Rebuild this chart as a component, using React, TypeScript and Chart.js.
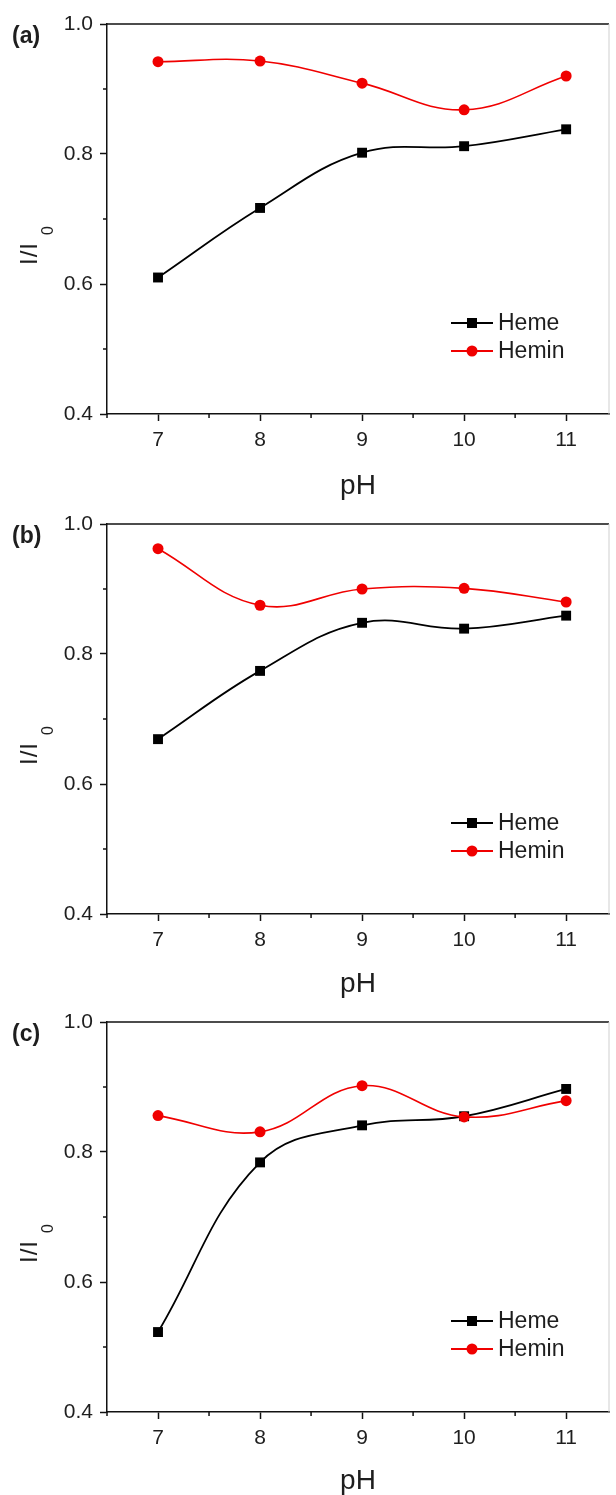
import React, { useEffect, useRef } from "react";
import { Chart, registerables } from "chart.js";

Chart.register(...registerables);

// ---------- data ----------
const phValues = [7, 8, 9, 10, 11];
const seriesNames = ["Heme", "Hemin"];
const panelLabels = ["(a)", "(b)", "(c)"];

const hemeA = [0.61, 0.717, 0.802, 0.812, 0.838];
const heminA = [0.942, 0.943, 0.909, 0.868, 0.92];
const hemeB = [0.669, 0.774, 0.848, 0.839, 0.859];
const heminB = [0.962, 0.875, 0.9, 0.901, 0.88];
const hemeC = [0.523, 0.784, 0.841, 0.855, 0.897];
const heminC = [0.856, 0.831, 0.902, 0.854, 0.879];

const xTickLabels = ["7", "8", "9", "10", "11"];
const yTickLabels = ["0.4", "0.6", "0.8", "1.0"];
const xTitle = "pH";
const yTitleMain = "I/I";
const yTitleSub = "0";

// ---------- style ----------
const FONT = "'Liberation Sans', Arial, Helvetica, sans-serif";
const TEXT = "#1e1e1e";
const RED = "#f00000";
const BLACK = "#000000";

const panels = [
  { label: panelLabels[0], heme: hemeA, hemin: heminA, top: 0, height: 500 },
  { label: panelLabels[1], heme: hemeB, hemin: heminB, top: 500, height: 498 },
  { label: panelLabels[2], heme: hemeC, hemin: heminC, top: 998, height: 497 },
];

const isMajorX = (v: number) => Math.abs(v - Math.round(v)) < 1e-6;
const isMajorY = (v: number) => Math.round(v * 10) % 2 === 0;

const decorPlugin = (panelLabel: string) => ({
  id: "decor",
  afterDraw(chart: any) {
    const { ctx, chartArea } = chart;
    const { left, right, top, bottom } = chartArea;
    const x = chart.scales.x;
    const y = chart.scales.y;
    ctx.save();
    // top frame
    ctx.strokeStyle = "#111";
    ctx.lineWidth = 1.5;
    ctx.beginPath();
    ctx.moveTo(left, top);
    ctx.lineTo(right, top);
    ctx.stroke();
    // faint right frame
    ctx.strokeStyle = "#cfcfcf";
    ctx.lineWidth = 1;
    ctx.beginPath();
    ctx.moveTo(right, top);
    ctx.lineTo(right, bottom);
    ctx.stroke();
    // minor ticks
    ctx.strokeStyle = "#111";
    ctx.lineWidth = 1.5;
    for (const t of x.ticks) {
      if (isMajorX(t.value)) continue;
      const px = x.getPixelForValue(t.value);
      ctx.beginPath();
      ctx.moveTo(px, bottom);
      ctx.lineTo(px, bottom + 4);
      ctx.stroke();
    }
    for (const t of y.ticks) {
      if (isMajorY(t.value)) continue;
      const py = y.getPixelForValue(t.value);
      ctx.beginPath();
      ctx.moveTo(left, py);
      ctx.lineTo(left - 4, py);
      ctx.stroke();
    }
    // panel label
    ctx.fillStyle = TEXT;
    ctx.font = `bold 23px ${FONT}`;
    ctx.textAlign = "left";
    ctx.textBaseline = "middle";
    ctx.fillText(panelLabel, 12, top + 13);
    // y title (rotated, with subscript)
    ctx.save();
    ctx.translate(37, top + 241);
    ctx.rotate(-Math.PI / 2);
    ctx.textBaseline = "alphabetic";
    ctx.font = `24px ${FONT}`;
    (ctx as any).letterSpacing = "1px";
    ctx.fillText(yTitleMain, 0, 0);
    const w = ctx.measureText(yTitleMain).width;
    (ctx as any).letterSpacing = "0px";
    ctx.font = `16px ${FONT}`;
    ctx.fillText(yTitleSub, w + 7, 16);
    ctx.restore();
    // legend
    chart.data.datasets.forEach((ds: any, i: number) => {
      const ly = top + 299 + i * 28;
      ctx.strokeStyle = ds.borderColor;
      ctx.lineWidth = 1.8;
      ctx.beginPath();
      ctx.moveTo(451, ly);
      ctx.lineTo(493, ly);
      ctx.stroke();
      ctx.fillStyle = ds.backgroundColor;
      if (ds.pointStyle === "rect") {
        ctx.fillRect(467, ly - 5, 10, 10);
      } else {
        ctx.beginPath();
        ctx.arc(472, ly, 5.5, 0, Math.PI * 2);
        ctx.fill();
      }
      ctx.fillStyle = TEXT;
      ctx.font = `23px ${FONT}`;
      ctx.textAlign = "left";
      ctx.textBaseline = "middle";
      ctx.fillText(ds.label, 498, ly + 1);
    });
    ctx.restore();
  },
});

function Panel({ label, heme, hemin, top, height }: any) {
  const ref = useRef<HTMLCanvasElement>(null);
  useEffect(() => {
    if (!ref.current) return;
    const chart = new Chart(ref.current, {
      type: "line",
      data: {
        datasets: [
          {
            label: seriesNames[0],
            data: phValues.map((p, i) => ({ x: p, y: heme[i] })),
            borderColor: BLACK,
            backgroundColor: BLACK,
            borderWidth: 1.8,
            pointStyle: "rect",
            pointRadius: 7,
            pointBorderWidth: 0,
            tension: 0.4,
            order: 1,
          },
          {
            label: seriesNames[1],
            data: phValues.map((p, i) => ({ x: p, y: hemin[i] })),
            borderColor: RED,
            backgroundColor: RED,
            borderWidth: 1.6,
            pointStyle: "circle",
            pointRadius: 5.5,
            pointBorderWidth: 0,
            tension: 0.4,
            order: 0,
          },
        ],
      },
      options: {
        animation: false,
        responsive: false,
        events: [],
        layout: { padding: { top: 24, right: 2, left: 0, bottom: 0 } },
        plugins: { legend: { display: false }, tooltip: { enabled: false } },
        scales: {
          x: {
            type: "linear",
            min: 6.5,
            max: 11.42,
            afterFit: (s: any) => {
              s.height = height - 414;
            },
            border: { display: true, color: "#111", width: 1.5 },
            grid: {
              display: true,
              drawOnChartArea: false,
              drawTicks: true,
              tickLength: 7,
              tickWidth: 1.5,
              tickColor: (c: any) => (c.tick && isMajorX(c.tick.value) ? "#111" : "rgba(0,0,0,0)"),
            },
            ticks: {
              stepSize: 0.5,
              includeBounds: false,
              autoSkip: false,
              maxRotation: 0,
              padding: 7,
              color: TEXT,
              font: { family: FONT, size: 21 },
              callback: (v: any) => {
                const n = Number(v);
                if (!isMajorX(n)) return "";
                const idx = phValues.indexOf(Math.round(n));
                return idx >= 0 ? xTickLabels[idx] : "";
              },
            },
            title: {
              display: true,
              text: xTitle,
              color: TEXT,
              font: { family: FONT, size: 28, lineHeight: 1 },
              padding: { top: 0, bottom: 0 },
            },
          },
          y: {
            type: "linear",
            min: 0.4,
            max: 1.0,
            afterFit: (s: any) => {
              s.width = 107;
            },
            border: { display: true, color: "#111", width: 1.5 },
            grid: {
              display: true,
              drawOnChartArea: false,
              drawTicks: true,
              tickLength: 7,
              tickWidth: 1.5,
              tickColor: (c: any) => (c.tick && isMajorY(c.tick.value) ? "#111" : "rgba(0,0,0,0)"),
            },
            ticks: {
              stepSize: 0.1,
              autoSkip: false,
              padding: 7,
              color: TEXT,
              font: { family: FONT, size: 21 },
              callback: (v: any) => {
                const n = Number(v);
                if (!isMajorY(n)) return "";
                const idx = Math.round((n - 0.4) * 5);
                return yTickLabels[idx] ?? "";
              },
            },
          },
        },
      },
      plugins: [decorPlugin(label)],
    } as any);
    return () => chart.destroy();
  }, []);
  return (
    <div style={{ position: "absolute", left: 0, top, width: 616, height }}>
      <canvas ref={ref} width={616} height={height} style={{ display: "block" }} />
    </div>
  );
}

export default function App() {
  return (
    <div
      style={{
        position: "absolute",
        left: 0,
        top: 0,
        width: 616,
        height: 1495,
        background: "#ffffff",
        overflow: "hidden",
      }}
    >
      {panels.map((p) => (
        <Panel key={p.label} {...p} />
      ))}
    </div>
  );
}
